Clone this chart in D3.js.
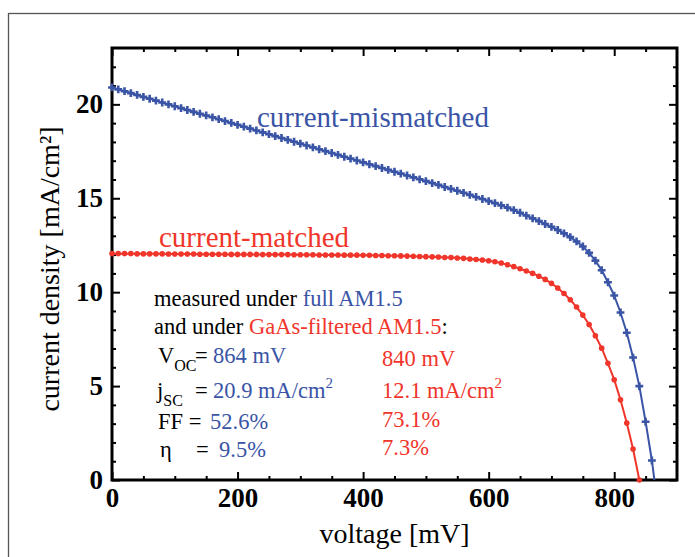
<!DOCTYPE html>
<html>
<head>
<meta charset="utf-8">
<script src="https://cdn.jsdelivr.net/npm/d3@7"></script>
<style>
  html, body { margin: 0; padding: 0; background: #fff; }
  svg { display: block; }
  text { font-family: "Liberation Serif", "Times New Roman", serif; }
</style>
</head>
<body>
<svg id="chart" width="695" height="557"></svg>
<script>
// ---- data ----
const mismatched = [ // [voltage mV, current density mA/cm2], full AM1.5
  [0,20.90],[10,20.80],[20,20.70],[30,20.60],[40,20.50],[50,20.40],[60,20.30],[70,20.20],[80,20.10],[90,20.00],
  [100,19.90],[110,19.80],[120,19.70],[130,19.60],[140,19.50],[150,19.41],[160,19.31],[170,19.21],[180,19.11],[190,19.01],
  [200,18.91],[210,18.81],[220,18.71],[230,18.61],[240,18.51],[250,18.41],[260,18.31],[270,18.21],[280,18.11],[290,18.01],
  [300,17.91],[310,17.81],[320,17.71],[330,17.61],[340,17.51],[350,17.41],[360,17.31],[370,17.21],[380,17.11],[390,17.01],
  [400,16.91],[410,16.81],[420,16.71],[430,16.61],[440,16.51],[450,16.41],[460,16.31],[470,16.21],[480,16.11],[490,16.01],
  [500,15.91],[510,15.81],[520,15.71],[530,15.60],[540,15.50],[550,15.40],[560,15.29],[570,15.18],[580,15.07],[590,14.96],
  [600,14.85],[610,14.74],[620,14.62],[630,14.50],[640,14.37],[650,14.23],[660,14.08],[670,13.93],[680,13.78],[690,13.63],
  [700,13.48],[710,13.31],[720,13.13],[730,12.93],[740,12.70],[750,12.43],[760,12.09],[770,11.68],[780,11.17],[790,10.53],
  [800,9.82],[810,8.92],[820,7.84],[830,6.52],[840,5.00],[850,3.10],[860,1.04],[864,0]
];
const matched = [ // [voltage mV, current density mA/cm2], GaAs-filtered AM1.5
  [0,12.05],[10,12.05],[20,12.05],[30,12.05],[40,12.04],[50,12.04],[60,12.04],[70,12.04],[80,12.04],[90,12.03],
  [100,12.03],[110,12.03],[120,12.03],[130,12.03],[140,12.02],[150,12.02],[160,12.02],[170,12.02],[180,12.02],[190,12.01],
  [200,12.01],[210,12.01],[220,12.01],[230,12.01],[240,12.00],[250,12.00],[260,12.00],[270,12.00],[280,12.00],[290,11.99],
  [300,11.99],[310,11.99],[320,11.99],[330,11.98],[340,11.98],[350,11.98],[360,11.98],[370,11.97],[380,11.97],[390,11.97],
  [400,11.96],[410,11.96],[420,11.95],[430,11.95],[440,11.94],[450,11.94],[460,11.93],[470,11.92],[480,11.91],[490,11.90],
  [500,11.89],[510,11.88],[520,11.87],[530,11.85],[540,11.84],[550,11.82],[560,11.80],[570,11.77],[580,11.74],[590,11.71],
  [600,11.67],[610,11.62],[620,11.55],[630,11.46],[640,11.36],[650,11.25],[660,11.13],[670,11.00],[680,10.85],[690,10.68],
  [700,10.47],[710,10.22],[720,9.93],[730,9.60],[740,9.21],[750,8.78],[760,8.28],[770,7.68],[780,7.02],[790,6.21],
  [800,5.34],[810,4.27],[820,3.03],[830,1.65],[840,0]
];
const xMajorTicks = [0, 200, 400, 600, 800];
const xMinorTicks = [50,100,150,250,300,350,450,500,550,650,700,750,850];
const yMajorTicks = [0, 5, 10, 15, 20];
const yMinorTicks = [1,2,3,4,6,7,8,9,11,12,13,14,16,17,18,19,21,22];
const xDomain = [0, 900];
const yDomain = [0, 23];
const xTitle = "voltage [mV]";
const yTitle = "current density [mA/cm²]";
const seriesNames = ["current-mismatched", "current-matched"];

const BLUE = "#3a54a6";
const RED = "#f0352b";

// ---- layout ----
const svg = d3.select("#chart");
const L = 112, R = 677, T = 48, B = 480;
const x = d3.scaleLinear().domain(xDomain).range([L, R]);
const y = d3.scaleLinear().domain(yDomain).range([B, T]);

// outer figure border (cropped)
svg.append("rect").attr("x", 8.5).attr("y", 13.5).attr("width", 720).attr("height", 580)
  .attr("fill", "none").attr("stroke", "#555").attr("stroke-width", 1.3);

function styleAxis(g, labels) {
  g.select(".domain").remove();
  g.selectAll(".tick line").attr("stroke", "#000").attr("stroke-width", 2);
  if (!labels) g.selectAll(".tick text").remove();
  else g.selectAll(".tick text").attr("fill", "#000")
        .style("font-family", "'Liberation Serif', serif")
        .style("font-weight", "bold").style("font-size", "27px");
}

// bottom
svg.append("g").attr("transform", `translate(0,${B})`)
  .call(d3.axisBottom(x).tickValues(xMajorTicks).tickFormat(d3.format("d")).tickSize(-8).tickPadding(8))
  .call(g => styleAxis(g, true));
svg.append("g").attr("transform", `translate(0,${B})`)
  .call(d3.axisBottom(x).tickValues(xMinorTicks).tickFormat("").tickSize(-4))
  .call(g => styleAxis(g, false));
// top
svg.append("g").attr("transform", `translate(0,${T})`)
  .call(d3.axisTop(x).tickValues(xMajorTicks).tickSize(-8)).call(g => styleAxis(g, false));
svg.append("g").attr("transform", `translate(0,${T})`)
  .call(d3.axisTop(x).tickValues(xMinorTicks).tickSize(-4)).call(g => styleAxis(g, false));
// left
svg.append("g").attr("transform", `translate(${L},0)`)
  .call(d3.axisLeft(y).tickValues(yMajorTicks).tickFormat(d3.format("d")).tickSize(-8).tickPadding(9))
  .call(g => styleAxis(g, true));
svg.append("g").attr("transform", `translate(${L},0)`)
  .call(d3.axisLeft(y).tickValues(yMinorTicks).tickFormat("").tickSize(-4))
  .call(g => styleAxis(g, false));
// right
svg.append("g").attr("transform", `translate(${R},0)`)
  .call(d3.axisRight(y).tickValues(yMajorTicks).tickSize(-8)).call(g => styleAxis(g, false));
svg.append("g").attr("transform", `translate(${R},0)`)
  .call(d3.axisRight(y).tickValues(yMinorTicks).tickSize(-4)).call(g => styleAxis(g, false));

// frame
svg.append("rect").attr("x", L).attr("y", T).attr("width", R - L).attr("height", B - T)
  .attr("fill", "none").attr("stroke", "#000").attr("stroke-width", 3);

// axis titles
svg.append("text").attr("x", (L + R) / 2).attr("y", 543).attr("text-anchor", "middle")
  .style("font-size", "28px").attr("fill", "#000").text(xTitle);
svg.append("text").attr("transform", `translate(59,${(T + B) / 2 + 5}) rotate(-90)`)
  .attr("text-anchor", "middle").style("font-size", "28px").attr("fill", "#000").text(yTitle);

// curves
const line = d3.line().x(d => x(d[0])).y(d => y(d[1]));
svg.append("path").datum(mismatched).attr("d", line)
  .attr("fill", "none").attr("stroke", BLUE).attr("stroke-width", 2);
svg.append("path").datum(matched).attr("d", line)
  .attr("fill", "none").attr("stroke", RED).attr("stroke-width", 2);

svg.append("g").selectAll("path").data(mismatched.slice(0, -1)).join("path")
  .attr("transform", d => `translate(${x(d[0])},${y(d[1])})`)
  .attr("d", d3.symbol(d3.symbolCross, 34)).attr("fill", BLUE);
svg.append("g").selectAll("circle").data(matched).join("circle")
  .attr("cx", d => x(d[0])).attr("cy", d => y(d[1])).attr("r", 2.8).attr("fill", RED);

// series labels
svg.append("text").attr("x", 257).attr("y", 127).style("font-size", "29px")
  .attr("fill", BLUE).text(seriesNames[0]);
svg.append("text").attr("x", 159).attr("y", 247).style("font-size", "29px")
  .attr("fill", RED).text(seriesNames[1]);

// statistics block
const FS = "22.5px";
function txt(xp, yp, parts) {
  const t = svg.append("text").attr("x", xp).attr("y", yp).style("font-size", FS);
  parts.forEach(p => {
    const s = t.append("tspan").text(p.t).attr("fill", p.c || "#000");
    if (p.x !== undefined) s.attr("x", p.x);
    if (p.dy !== undefined) s.attr("dy", p.dy);
    if (p.fs) s.style("font-size", p.fs);
  });
  return t;
}
txt(154, 306, [{t: "measured under "}, {t: "full AM1.5", c: BLUE}]);
txt(154, 334, [{t: "and under "}, {t: "GaAs-filtered AM1.5", c: RED}, {t: ":"}]);

txt(158, 363, [{t: "V"}, {t: "OC", fs: "16px", dy: 8}, {t: "=", x: 195, dy: -8}, {t: "864 mV", c: BLUE, x: 213}]);
txt(382, 366, [{t: "840 mV", c: RED}]);

txt(157, 398, [{t: "j"}, {t: "SC", fs: "16px", dy: 8}, {t: "=", x: 195, dy: -8}, {t: "20.9 mA/cm", c: BLUE, x: 213},
  {t: "2", c: BLUE, fs: "15px", dy: -10}]);
txt(382, 398, [{t: "12.1 mA/cm", c: RED}, {t: "2", c: RED, fs: "15px", dy: -10}]);

txt(158, 429, [{t: "FF ="}, {t: "52.6%", c: BLUE, x: 210}]);
txt(382, 427, [{t: "73.1%", c: RED}]);

txt(160, 457, [{t: "η"}, {t: "=", x: 196}, {t: "9.5%", c: BLUE, x: 219}]);
txt(382, 455, [{t: "7.3%", c: RED}]);
</script>
</body>
</html>
